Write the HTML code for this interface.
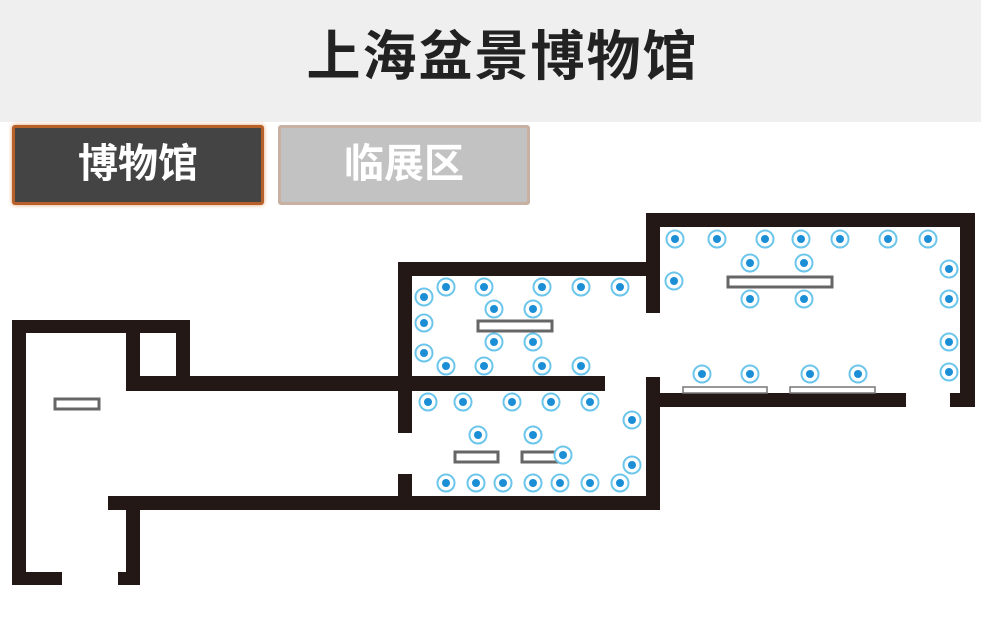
<!DOCTYPE html>
<html><head><meta charset="utf-8"><style>
body{margin:0;width:981px;height:626px;background:#fff;overflow:hidden;position:relative;font-family:"Liberation Sans","Noto Sans CJK SC",sans-serif}
.hdr{position:absolute;left:0;top:0;width:957px;padding-left:24px;height:122px;background:#efefef;text-align:center;line-height:114px;font-size:54px;font-weight:bold;color:#222;letter-spacing:2px}
.btn{position:absolute;top:125px;height:74px;width:246px;text-align:center;line-height:72px;font-size:40px;font-weight:bold;color:#fff;border-radius:3px}
</style></head><body>
<div class="hdr">上海盆景博物馆</div>
<div class="btn" style="left:12px;background:#444;border:3px solid #b8602a;box-shadow:0 0 4px #e0a070">博物馆</div>
<div class="btn" style="left:278px;background:#c2c2c2;border:3px solid #c8b0a2">临展区</div>
<svg width="981" height="626" style="position:absolute;left:0;top:0">
<defs><g id="c"><circle r="8.5" fill="#fff" stroke="#6cc6ec" stroke-width="2"/><circle r="4" fill="#1b8ed6"/></g></defs>
<g fill="#231815">
<rect x="12" y="320" width="178" height="13"/>
<rect x="12" y="320" width="14" height="265"/>
<rect x="12" y="572" width="50" height="13"/>
<rect x="118" y="572" width="22" height="13"/>
<rect x="126" y="500" width="14" height="85"/>
<rect x="126" y="320" width="14" height="70"/>
<rect x="176" y="320" width="14" height="70"/>
<rect x="126" y="376" width="479" height="15"/>
<rect x="108" y="496" width="552" height="14"/>
<rect x="398" y="262" width="14" height="171"/>
<rect x="398" y="474" width="14" height="36"/>
<rect x="398" y="262" width="262" height="14"/>
<rect x="646" y="213" width="14" height="100"/>
<rect x="646" y="213" width="329" height="14"/>
<rect x="960" y="213" width="15" height="194"/>
<rect x="950" y="393" width="25" height="14"/>
<rect x="660" y="393" width="246" height="14"/>
<rect x="646" y="377" width="14" height="133"/>
</g>
<g fill="#fff" stroke="#666" stroke-width="3">
<rect x="478" y="321" width="74" height="10"/>
<rect x="455" y="452" width="43" height="10"/>
<rect x="522" y="452" width="40" height="10"/>
<rect x="728" y="277" width="104" height="10"/>
<rect x="55" y="399" width="44" height="10"/>
</g>
<g fill="#fff" stroke="#777" stroke-width="1.5">
<rect x="683" y="387" width="84" height="6"/>
<rect x="790" y="387" width="85" height="6"/>
</g>
<g>
<use href="#c" x="446" y="287"/><use href="#c" x="484" y="287"/><use href="#c" x="542" y="287"/><use href="#c" x="581" y="287"/><use href="#c" x="620" y="287"/>
<use href="#c" x="424" y="297"/><use href="#c" x="424" y="323"/><use href="#c" x="424" y="353"/>
<use href="#c" x="494" y="309"/><use href="#c" x="533" y="309"/><use href="#c" x="494" y="342"/><use href="#c" x="533" y="342"/>
<use href="#c" x="446" y="366"/><use href="#c" x="484" y="366"/><use href="#c" x="542" y="366"/><use href="#c" x="581" y="366"/>
<use href="#c" x="428" y="402"/><use href="#c" x="463" y="402"/><use href="#c" x="512" y="402"/><use href="#c" x="551" y="402"/><use href="#c" x="590" y="402"/>
<use href="#c" x="632" y="420"/><use href="#c" x="478" y="435"/><use href="#c" x="533" y="435"/><use href="#c" x="563" y="455"/><use href="#c" x="632" y="465"/>
<use href="#c" x="446" y="483"/><use href="#c" x="476" y="483"/><use href="#c" x="503" y="483"/><use href="#c" x="533" y="483"/><use href="#c" x="560" y="483"/><use href="#c" x="590" y="483"/><use href="#c" x="620" y="483"/>
<use href="#c" x="675" y="239"/><use href="#c" x="717" y="239"/><use href="#c" x="765" y="239"/><use href="#c" x="801" y="239"/><use href="#c" x="840" y="239"/><use href="#c" x="888" y="239"/><use href="#c" x="928" y="239"/>
<use href="#c" x="750" y="263"/><use href="#c" x="804" y="263"/><use href="#c" x="674" y="281"/>
<use href="#c" x="949" y="269"/><use href="#c" x="949" y="299"/><use href="#c" x="949" y="342"/><use href="#c" x="949" y="372"/>
<use href="#c" x="750" y="299"/><use href="#c" x="804" y="299"/>
<use href="#c" x="702" y="374"/><use href="#c" x="750" y="374"/><use href="#c" x="810" y="374"/><use href="#c" x="858" y="374"/>
</g>
</svg>
</body></html>
